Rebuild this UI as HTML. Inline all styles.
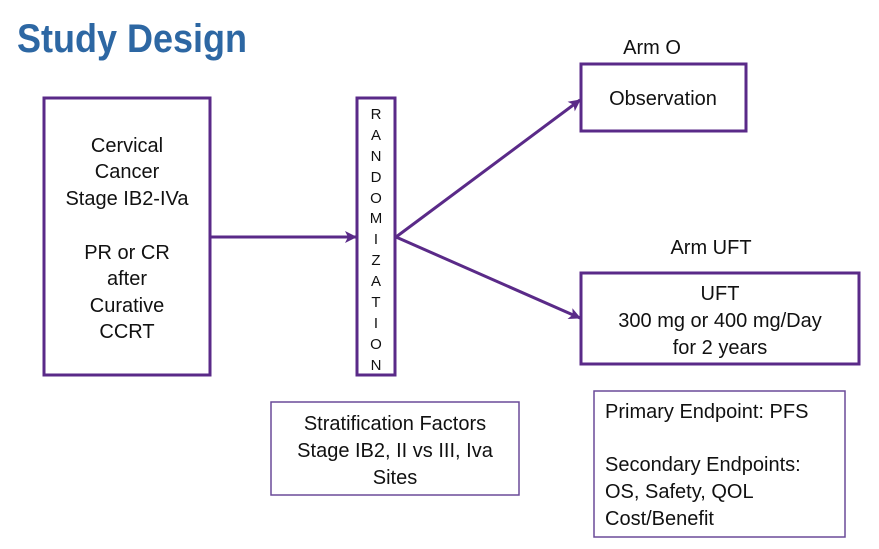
<!DOCTYPE html>
<html><head><meta charset="utf-8"><style>
html,body{margin:0;padding:0;background:#fff;width:879px;height:549px;overflow:hidden}
svg text{font-family:"Liberation Sans",Arial,sans-serif;fill:#111}
</style></head><body>
<svg width="879" height="549" viewBox="0 0 879 549" xmlns="http://www.w3.org/2000/svg">
<defs><marker id="a" markerWidth="12" markerHeight="12" refX="11" refY="6" orient="auto" markerUnits="userSpaceOnUse"><path d="M0,0 L12,6 L0,12 L3,6 Z" fill="#5a2a88"/></marker></defs>
<text x="17" y="52" style="font-size:40px;font-weight:bold;fill:#2d67a3" transform="scale(0.9,1)" transform-origin="17 52">Study Design</text>
<g fill="none" stroke="#5a2a88" stroke-width="3">
<rect x="44" y="98" width="166" height="277"/>
<rect x="357" y="98" width="38" height="277"/>
<rect x="581" y="64" width="165" height="67"/>
<rect x="581" y="273" width="278" height="91"/>
<line x1="210" y1="237" x2="356" y2="237" marker-end="url(#a)"/>
<line x1="396" y1="237" x2="580" y2="100" marker-end="url(#a)"/>
<line x1="396" y1="237" x2="580" y2="318" marker-end="url(#a)"/>
</g>
<g fill="none" stroke="#6a4a98" stroke-width="1.5">
<rect x="271" y="402" width="248" height="93"/>
<rect x="594" y="391" width="251" height="146"/>
</g>
<g style="font-size:20px" text-anchor="middle">
<text x="127" y="152">Cervical</text>
<text x="127" y="178">Cancer</text>
<text x="127" y="205">Stage IB2-IVa</text>
<text x="127" y="259">PR or CR</text>
<text x="127" y="285">after</text>
<text x="127" y="312">Curative</text>
<text x="127" y="338">CCRT</text>
<text x="652" y="54">Arm O</text>
<text x="663" y="105">Observation</text>
<text x="711" y="254">Arm UFT</text>
<text x="720" y="300">UFT</text>
<text x="720" y="327">300 mg or 400 mg/Day</text>
<text x="720" y="354">for 2 years</text>
<text x="395" y="430">Stratification Factors</text>
<text x="395" y="457">Stage IB2, II vs III, Iva</text>
<text x="395" y="484">Sites</text>
</g>
<g style="font-size:20px">
<text x="605" y="418">Primary Endpoint: PFS</text>
<text x="605" y="471">Secondary Endpoints:</text>
<text x="605" y="498">OS, Safety, QOL</text>
<text x="605" y="525">Cost/Benefit</text>
</g>
<g style="font-size:15px" text-anchor="middle">
<text x="376" y="119">R</text><text x="376" y="140">A</text><text x="376" y="161">N</text>
<text x="376" y="182">D</text><text x="376" y="203">O</text><text x="376" y="223">M</text>
<text x="376" y="244">I</text><text x="376" y="265">Z</text><text x="376" y="286">A</text>
<text x="376" y="307">T</text><text x="376" y="328">I</text><text x="376" y="349">O</text>
<text x="376" y="370">N</text>
</g>
</svg>
</body></html>
